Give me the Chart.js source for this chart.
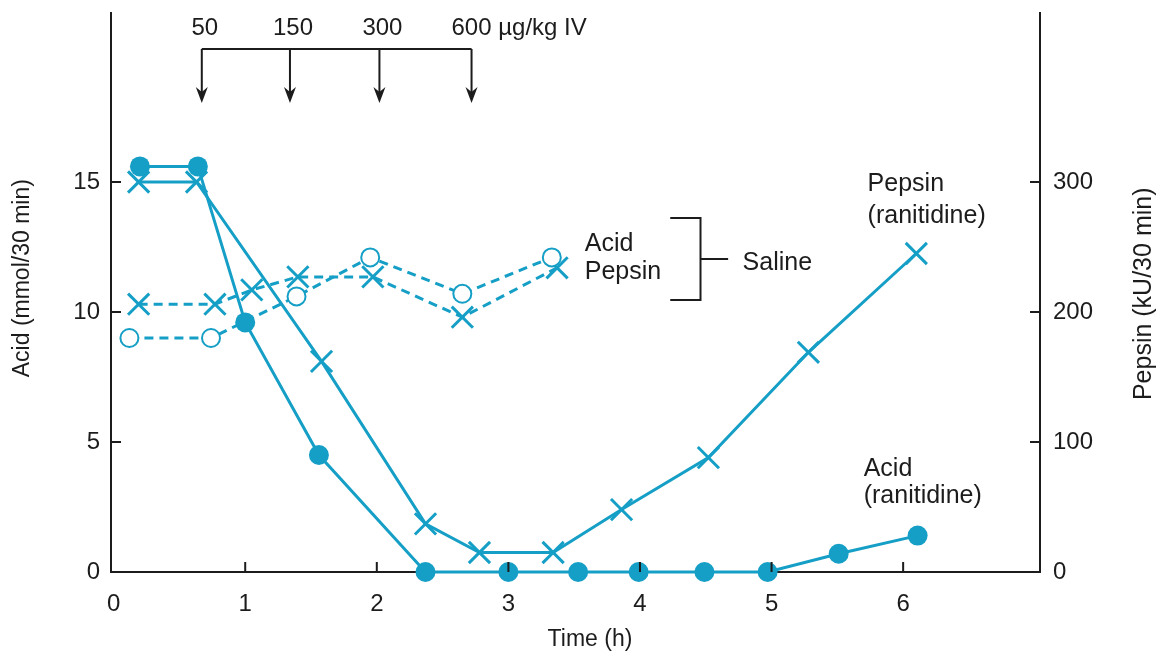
<!DOCTYPE html>
<html>
<head>
<meta charset="utf-8">
<script src="https://cdn.jsdelivr.net/npm/chart.js@4/dist/chart.umd.min.js"></script>
<style>
  body { margin: 0; background: #fff; }
  #wrap { width: 1163px; height: 660px; }
</style>
</head>
<body>
<div id="wrap"><canvas id="c" width="1163" height="660"></canvas></div>
<script>
// time (h) and values for each series
const acidRanTime = [0.2, 0.64, 1.0, 1.56, 2.37, 3.0, 3.53, 3.99, 4.49, 4.97, 5.51, 6.11];
const acidRan = [15.6, 15.6, 9.6, 4.5, 0, 0, 0, 0, 0, 0, 0.7, 1.4];

const pepsinRanTime = [0.19, 0.63, 1.58, 2.37, 2.78, 3.34, 3.86, 4.52, 5.28, 6.10];
const pepsinRan = [300, 300, 162, 37, 15, 15, 48, 88, 169, 245];

const acidSalTime = [0.12, 0.74, 1.39, 1.95, 2.65, 3.33];
const acidSal = [9.0, 9.0, 10.6, 12.1, 10.7, 12.1];

const pepsinSalTime = [0.19, 0.77, 1.05, 1.40, 1.97, 2.65, 3.37];
const pepsinSal = [206, 206, 217, 227, 227, 196, 234];

// ranitidine doses (µg/kg IV) and when they were given
const doseTime = [0.67, 1.34, 2.02, 2.72];
const doseLabels = ['50', '150', '300', '600'];

const xTicks = [0, 1, 2, 3, 4, 5, 6];
const acidTicks = [0, 5, 10, 15];
const pepsinTicks = [0, 100, 200, 300];

const cyan = '#169fc6';
const ink = '#1c1c1c';
const FONT = '"Liberation Sans", Arial, Helvetica, sans-serif';

const pts = (xs, ys) => xs.map((x, i) => ({ x: x, y: ys[i] }));

// inward tick marks, axis titles and the dosing / series notes
const notes = {
  id: 'notes',
  afterDraw(chart) {
    const { ctx, chartArea: a } = chart;
    const x = chart.scales.x, y = chart.scales.y, y1 = chart.scales.y1;
    const px = t => x.getPixelForValue(t);
    const py = v => y.getPixelForValue(v);
    ctx.save();
    ctx.strokeStyle = ink;
    ctx.fillStyle = ink;
    ctx.lineWidth = 2;

    ctx.beginPath();
    acidTicks.forEach(v => { ctx.moveTo(a.left, py(v)); ctx.lineTo(a.left + 10, py(v)); });
    pepsinTicks.forEach(v => { const yy = y1.getPixelForValue(v); ctx.moveTo(a.right, yy); ctx.lineTo(a.right - 10, yy); });
    xTicks.slice(1).forEach(t => { ctx.moveTo(px(t), a.bottom); ctx.lineTo(px(t), a.bottom - 10); });
    ctx.stroke();

    // dose bracket with arrows
    const barY = py(20.12), tipY = py(18.04);
    ctx.beginPath();
    ctx.moveTo(px(doseTime[0]), barY);
    ctx.lineTo(px(doseTime[doseTime.length - 1]), barY);
    doseTime.forEach(t => { ctx.moveTo(px(t), barY); ctx.lineTo(px(t), tipY - 8); });
    ctx.stroke();
    doseTime.forEach(t => {
      const xx = px(t);
      ctx.beginPath();
      ctx.moveTo(xx, tipY);
      ctx.lineTo(xx - 6, tipY - 16);
      ctx.lineTo(xx, tipY - 11);
      ctx.lineTo(xx + 6, tipY - 16);
      ctx.closePath();
      ctx.fill();
    });

    ctx.font = '24px ' + FONT;
    ctx.textBaseline = 'middle';
    const labY = py(20.92);
    doseLabels.forEach((s, i) => {
      if (i < doseLabels.length - 1) {
        ctx.textAlign = 'center';
        ctx.fillText(s, px(doseTime[i]) + 3, labY);
      } else {
        ctx.textAlign = 'left';
        const w = ctx.measureText(s).width;
        ctx.fillText(s + ' \u00b5g/kg IV', px(doseTime[i]) - w / 2, labY);
      }
    });

    // saline key with bracket
    ctx.font = '25px ' + FONT;
    ctx.textAlign = 'left';
    ctx.fillText('Acid', px(3.58), py(12.62));
    ctx.fillText('Pepsin', px(3.58), py(11.54));
    ctx.fillText('Saline', px(4.78), py(11.88));
    ctx.beginPath();
    ctx.moveTo(px(4.23), py(13.62));
    ctx.lineTo(px(4.46), py(13.62));
    ctx.lineTo(px(4.46), py(10.46));
    ctx.lineTo(px(4.23), py(10.46));
    ctx.moveTo(px(4.46), py(12.04));
    ctx.lineTo(px(4.67), py(12.04));
    ctx.stroke();

    // ranitidine labels
    ctx.fillText('Pepsin', px(5.73), py(14.92));
    ctx.fillText('(ranitidine)', px(5.73), py(13.69));
    ctx.fillText('Acid', px(5.70), py(3.96));
    ctx.fillText('(ranitidine)', px(5.70), py(2.92));

    // axis titles
    ctx.textAlign = 'center';
    ctx.font = '23px ' + FONT;
    ctx.fillText('Time (h)', px(3.62), a.bottom + 68);
    ctx.save();
    ctx.translate(23, py(11.3));
    ctx.rotate(-Math.PI / 2);
    ctx.fillText('Acid (mmol/30 min)', 0, 0);
    ctx.restore();
    ctx.save();
    ctx.font = '25px ' + FONT;
    ctx.translate(a.right + 104, py(10.7));
    ctx.rotate(-Math.PI / 2);
    ctx.fillText('Pepsin (kU/30 min)', 0, 0);
    ctx.restore();
    ctx.restore();
  }
};

const solid = {
  borderColor: cyan,
  borderWidth: 3,
  pointBorderColor: cyan,
  tension: 0,
  clip: false
};

// fixed axis box sizes, no extra room for half tick labels
const fixBox = (s, w) => {
  s.width = w;
  s.paddingTop = 0;
  s.paddingBottom = 0;
};

new Chart(document.getElementById('c'), {
  type: 'line',
  data: {
    datasets: [
      {
        ...solid,
        label: 'Acid (ranitidine)',
        data: pts(acidRanTime, acidRan),
        yAxisID: 'y',
        pointStyle: 'circle',
        pointRadius: 10,
        pointBackgroundColor: cyan,
        pointBorderWidth: 0
      },
      {
        ...solid,
        label: 'Pepsin (ranitidine)',
        data: pts(pepsinRanTime, pepsinRan),
        yAxisID: 'y1',
        pointStyle: 'crossRot',
        pointRadius: 15,
        pointBorderWidth: 3
      },
      {
        ...solid,
        label: 'Acid (saline)',
        data: pts(acidSalTime, acidSal),
        yAxisID: 'y',
        borderDash: [9, 6],
        pointStyle: 'circle',
        pointRadius: 9,
        pointBackgroundColor: '#fff',
        pointBorderWidth: 2
      },
      {
        ...solid,
        label: 'Pepsin (saline)',
        data: pts(pepsinSalTime, pepsinSal),
        yAxisID: 'y1',
        borderDash: [9, 6],
        pointStyle: 'crossRot',
        pointRadius: 15,
        pointBorderWidth: 3
      }
    ]
  },
  options: {
    responsive: false,
    animation: false,
    layout: { autoPadding: false, padding: { top: 13, left: 0, right: 0, bottom: 0 } },
    plugins: { legend: { display: false }, tooltip: { enabled: false } },
    scales: {
      x: {
        type: 'linear',
        min: -0.02,
        max: 7.04,
        afterBuildTicks: s => { s.ticks = xTicks.map(v => ({ value: v })); },
        afterFit: s => { s.height = 88; s.paddingLeft = 0; s.paddingRight = 0; },
        grid: { drawOnChartArea: false, drawTicks: false },
        border: { display: true, color: ink, width: 2 },
        ticks: { color: ink, padding: 18, maxRotation: 0, font: { size: 24, family: FONT } }
      },
      y: {
        position: 'left',
        min: 0,
        max: 21.5,
        afterBuildTicks: s => { s.ticks = acidTicks.map(v => ({ value: v })); },
        afterFit: s => fixBox(s, 111),
        grid: { drawOnChartArea: false, drawTicks: false },
        border: { display: true, color: ink, width: 2 },
        ticks: { color: ink, padding: 11, font: { size: 24, family: FONT } }
      },
      y1: {
        position: 'right',
        min: 0,
        max: 430,
        afterBuildTicks: s => { s.ticks = pepsinTicks.map(v => ({ value: v })); },
        afterFit: s => fixBox(s, 123),
        grid: { drawOnChartArea: false, drawTicks: false },
        border: { display: true, color: ink, width: 2 },
        ticks: { color: ink, padding: 13, font: { size: 24, family: FONT } }
      }
    }
  },
  plugins: [notes]
});
</script>
</body>
</html>
